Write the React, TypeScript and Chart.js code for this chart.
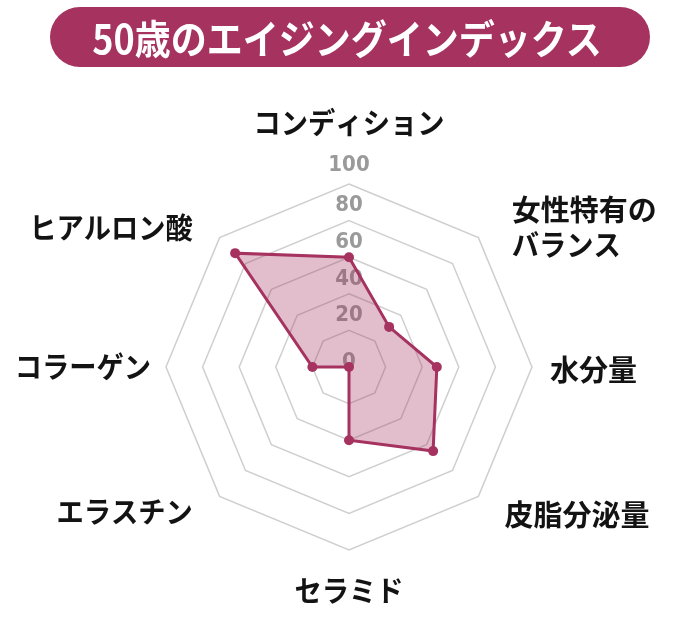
import { useEffect, useRef } from "react";
import Chart from "chart.js/auto";

const title = "50歳のエイジングインデックス";
const categories: (string | string[])[] = [
  "コンディション",
  ["女性特有の", "バランス"],
  "水分量",
  "皮脂分泌量",
  "セラミド",
  "エラスチン",
  "コラーゲン",
  "ヒアルロン酸",
];
const scores = [60, 31, 48, 65, 40, 0, 20, 88];
const tickValues = [0, 20, 40, 60, 80, 100];

const ACCENT = "#a5325f";

// how far past the outer ring each category label sits, and a vertical nudge
const labelPad = [61, 47, 18, 37, 41, 38, 15, 38];
const labelShift = [0, 23, 3, -8, 0, -11, 0, 17];

// the original font sets katakana a little tighter than kanji
const squeezeFor = (line: string) => (/[\u30A0-\u30FF]/.test(line) ? 0.94 : 1);

const radarText = {
  id: "radarText",
  beforeDatasetsDraw(chart: any) {
    const scale = chart.scales.r;
    const ctx = chart.ctx as CanvasRenderingContext2D;
    ctx.save();
    ctx.font = 'bold 22px "Liberation Sans Narrow", "DejaVu Sans Condensed", sans-serif';
    ctx.fillStyle = "#9a9a9a";
    ctx.textAlign = "center";
    ctx.textBaseline = "middle";
    tickValues.forEach((v) => {
      const lift = v === 0 ? 5 : v === 100 ? 19 : 15;
      const d = scale.getDistanceFromCenterForValue(v);
      ctx.fillText(String(v), scale.xCenter, scale.yCenter - d - lift);
    });
    ctx.restore();
  },
  afterDraw(chart: any) {
    const scale = chart.scales.r;
    const ctx = chart.ctx as CanvasRenderingContext2D;
    const n = categories.length;
    const lineHeight = 34.5;
    categories.forEach((label, i) => {
      const pos = scale.getPointPosition(i, scale.drawingArea + labelPad[i]);
      const lines = Array.isArray(label) ? label : [label];
      const deg = Math.round((i * 360) / n);
      const top = pos.y + labelShift[i] - ((lines.length - 1) * lineHeight) / 2;
      lines.forEach((line, k) => {
        ctx.save();
        ctx.translate(pos.x, 0);
        ctx.scale(squeezeFor(line), 1);
        ctx.font = 'bold 29px "Noto Sans CJK JP", sans-serif';
        ctx.fillStyle = "#131313";
        ctx.textBaseline = "middle";
        ctx.textAlign = deg === 0 || deg === 180 ? "center" : deg < 180 ? "left" : "right";
        ctx.fillText(line, 0, top + k * lineHeight);
        ctx.restore();
      });
    });
  },
};

function AgingRadar() {
  const canvasRef = useRef<HTMLCanvasElement | null>(null);

  useEffect(() => {
    const canvas = canvasRef.current;
    if (!canvas) return;
    const ctx = canvas.getContext("2d");
    if (!ctx) return;

    const chart = new Chart(ctx, {
      type: "radar",
      data: {
        labels: categories,
        datasets: [
          {
            data: scores,
            borderColor: ACCENT,
            backgroundColor: "rgba(165,50,95,0.32)",
            borderWidth: 3,
            pointRadius: 5,
            pointBackgroundColor: ACCENT,
            pointBorderWidth: 0,
            fill: true,
          },
        ],
      },
      options: {
        animation: false,
        responsive: true,
        maintainAspectRatio: false,
        layout: { padding: { top: 184, bottom: 81, left: 0, right: 1 } },
        plugins: {
          legend: { display: false },
          tooltip: { enabled: false },
        },
        scales: {
          r: {
            min: 0,
            max: 100,
            ticks: { display: false, stepSize: 20 },
            pointLabels: { display: false },
            angleLines: { display: false },
            grid: { color: "#cfcfcf", lineWidth: 1.5 },
          },
        },
      },
      plugins: [radarText],
    });

    return () => {
      chart.destroy();
    };
  }, []);

  return <canvas ref={canvasRef} />;
}

export default function App() {
  useEffect(() => {
    document.body.style.margin = "0";
  }, []);

  return (
    <div style={{ position: "relative", width: 700, height: 631, background: "#fff" }}>
      <div style={{ position: "absolute", inset: 0 }}>
        <AgingRadar />
      </div>
      <div
        style={{
          position: "absolute",
          left: 50,
          top: 7,
          width: 600,
          height: 60,
          borderRadius: 30,
          background: ACCENT,
          color: "#fff",
          display: "flex",
          alignItems: "center",
          justifyContent: "center",
          fontFamily: '"Noto Sans CJK JP", sans-serif',
          fontWeight: 700,
          fontSize: 40,
          lineHeight: 1,
        }}
      >
        <span style={{ display: "inline-block", transform: "scaleX(0.9)", whiteSpace: "nowrap", marginLeft: -6 }}>
          {title}
        </span>
      </div>
    </div>
  );
}
